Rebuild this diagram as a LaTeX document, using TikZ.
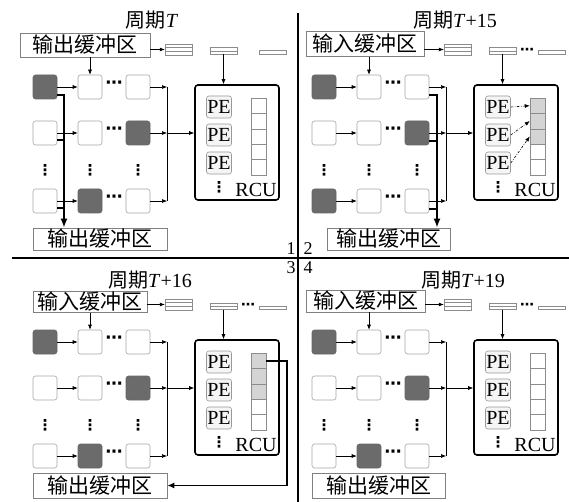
\documentclass[tikz,border=0pt]{standalone}
\usepackage{fontspec}
\setmainfont{Liberation Serif}
\newfontfamily\cjk{Noto Sans CJK SC}
\newfontfamily\dv{DejaVu Sans}
\usetikzlibrary{arrows.meta,calc}
\tikzset{
  cell/.style={draw=black!35, rounded corners=2.5pt, minimum width=24pt, minimum height=24pt, inner sep=0pt, fill=white, line width=0.6pt},
  dcell/.style={cell, fill=black!58, draw=black!60},
  pebox/.style={draw=black!40, rounded corners=2.5pt, minimum width=25pt, minimum height=22pt, inner sep=0pt, fill=black!4, line width=0.6pt, font=\fontsize{20}{20}\selectfont},
  reg/.style={draw=black!45, minimum width=15pt, minimum height=15.4pt, inner sep=0pt, fill=white, line width=0.5pt},
  greg/.style={reg, fill=black!17},
  bufbox/.style={draw=black!50, inner sep=0pt, line width=0.6pt, font=\cjk\fontsize{21}{21}\selectfont},
  rcubox/.style={draw, rounded corners=3pt, line width=1.6pt, minimum width=84pt, minimum height=115pt, inner sep=0pt},
  strip/.style={draw=black!45, fill=white, minimum width=27pt, inner sep=0pt, line width=0.5pt},
  sthree/.style={strip, minimum height=11pt, path picture={
     \draw[black!45, line width=0.5pt]
       ($(path picture bounding box.north west)!1/3!(path picture bounding box.south west)$) -- ($(path picture bounding box.north east)!1/3!(path picture bounding box.south east)$)
       ($(path picture bounding box.north west)!2/3!(path picture bounding box.south west)$) -- ($(path picture bounding box.north east)!2/3!(path picture bounding box.south east)$);}},
  stwo/.style={strip, minimum height=6.5pt, path picture={\draw[black!45, line width=0.5pt] (path picture bounding box.west) -- (path picture bounding box.east);}},
  sone/.style={strip, minimum height=3.5pt},
  arr/.style={-{Latex[length=5pt,width=4pt]}, line width=0.6pt},
  thickline/.style={line width=2pt},
  thickarr/.style={thickline, -{Latex[length=9pt,width=7pt]}},
  fbarr/.style={line width=1.6pt, -{Latex[length=7pt,width=6pt]}},
  ddarr/.style={line width=0.6pt, dash pattern=on 2.5pt off 1.5pt on 0.6pt off 1.5pt, -{Latex[length=5pt,width=4pt]}},
  hd/.style={inner sep=0pt, font=\dv\bfseries\fontsize{17}{17}\selectfont},
  sd/.style={inner sep=0pt, font=\dv\bfseries\fontsize{14}{14}\selectfont},
  vd/.style={inner sep=0pt, font=\dv\bfseries\fontsize{15}{15}\selectfont},
  lbl/.style={inner sep=0pt, font=\fontsize{20}{20}\selectfont},
  ttl/.style={inner sep=0pt, font=\fontsize{20}{20}\selectfont},
  num/.style={inner sep=0pt, font=\fontsize{18}{18}\selectfont},
}
\newcommand\gpanel[6]{%
 \begin{scope}[shift={(#2,#3)}]
  \node[dcell] (#1c11) at (45,87) {};
  \node[cell] (#1c12) at (90,87) {};
  \node[cell] (#1c13) at (138,87) {};
  \node[cell] (#1c21) at (45,133) {};
  \node[cell] (#1c22) at (90,133) {};
  \node[dcell] (#1c23) at (138,133) {};
  \node[#4] (#1c41) at (45,201) {};
  \node[#5] (#1c42) at (90,201) {};
  \node[cell] (#1c43) at (138,201) {};
  \node[hd] (#1h1) at (114,85) {⋯};
  \node[hd] (#1h2) at (114,131) {⋯};
  \node[hd] (#1h4) at (114,199) {⋯};
  \node[vd] (#1v1) at (45,170) {⋮};
  \node[vd] (#1v2) at (90,170) {⋮};
  \node[vd] (#1v3) at (138,170) {⋮};
  \draw[arr] (#1c11) -- (#1c12);
  \draw[arr] (#1c21) -- (#1c22);
  \draw[arr] (#1c41) -- (#1c42);
  \coordinate (#1b1) at (167,87);
  \coordinate (#1b2) at (167,133);
  \coordinate (#1b4) at (167,201);
  \draw[arr] (#1c13) -- (#1b1);
  \draw[arr] (#1c23) -- (#1b2);
  \draw[arr] (#1c43) -- (#1b4);
  \draw[line width=0.6pt] (#1b1) -- (#1b4);
  \node[rcubox] (#1rcu) at (237,142.5) {};
  \draw[arr] (#1b2) -- (#1b2 -| #1rcu.west);
  \node[pebox] (#1pe1) at (219,107) {PE};
  \node[pebox] (#1pe2) at (219,135) {PE};
  \node[pebox] (#1pe3) at (219,163) {PE};
  \node[vd] (#1pv) at (219,187) {⋮};
  \node[lbl] (#1lab) at (256,190) {RCU};
  \node[#6] (#1r1) at (258.5,105.7) {};
  \node[#6] (#1r2) at (258.5,121.1) {};
  \node[#6] (#1r3) at (258.5,136.5) {};
  \node[reg] (#1r4) at (258.5,151.9) {};
  \node[reg] (#1r5) at (258.5,167.3) {};
  \node[sthree] (#1s1) at (178.5,49.5) {};
  \node[stwo] (#1s2) at (223.5,51) {};
  \node[sone] (#1s3) at (272.5,52.5) {};
  \draw[arr] (#1s2) -- (#1s2 |- #1rcu.north);
 \end{scope}}
\begin{document}
\begin{tikzpicture}[x=1pt,y=-1pt]
\useasboundingbox (0,0) rectangle (569,502);
\fill[white] (0,0) rectangle (569,502);
% dividers
\draw[line width=2pt] (12,258) -- (569,258);
\draw[line width=2pt] (298,13) -- (298,502);
\node[num] (n1) at (291,249) {1};
\node[num] (n2) at (308,249) {2};
\node[num] (n3) at (291,268) {3};
\node[num] (n4) at (308,268) {4};
% panel 1
\gpanel{A}{0}{0}{cell}{dcell}{reg}
\node[ttl] (At) at (152,20) {{\cjk 周期}\textit{T}};
\node[bufbox, minimum width=130pt, minimum height=24pt] (Ain) at (85,45) {输出缓冲区};
\draw[arr] (Ain.east |- As1) -- (As1);
\draw[arr] (Ain.south -| Ac12) -- (Ac12);
\node[bufbox, minimum width=134pt, minimum height=22pt] (Aout) at (100,239) {输出缓冲区};
\coordinate (Av) at (64,0);
\draw[thickarr] ($(Ac11.east)+(0,8)$) -| (Av |- Aout.north);
\draw[thickline] ($(Ac21.east)+(0,7)$) -- ++(7,0);
\draw[thickline] ($(Ac41.east)+(0,7)$) -- ++(7,0);
% panel 2
\gpanel{B}{279}{0}{dcell}{cell}{greg}
\node[ttl] (Bt) at (455,20) {{\cjk 周期}\textit{T}+15};
\node[bufbox, minimum width=118pt, minimum height=25pt] (Bin) at (365,44) {输入缓冲区};
\draw[arr] (Bin.east |- Bs1) -- (Bs1);
\draw[arr] (Bin.south -| Bc12) -- (Bc12);
\node[sd] (Bdd) at ($(Bs2.east)!0.5!(Bs3.west)$) {⋯};
\node[bufbox, minimum width=123pt, minimum height=22pt] (Bout) at (388.5,239) {输出缓冲区};
\coordinate (Bv) at (437,0);
\draw[thickarr] ($(Bc13.east)+(0,8)$) -| (Bv |- Bout.north);
\draw[thickline] ($(Bc23.east)+(0,8)$) -- ++(8,0);
\draw[thickline] ($(Bc43.east)+(0,8)$) -- ++(8,0);
\draw[ddarr] (Bpe1.east) -- (Br1.west);
\draw[ddarr] (Bpe2.east) -- (Br2.west);
\draw[ddarr] (Bpe3.east) -- (Br3.west);
% panel 3
\gpanel{C}{0}{255}{cell}{dcell}{greg}
\node[ttl] (Ct) at (150,280) {{\cjk 周期}\textit{T}+16};
\node[bufbox, minimum width=114pt, minimum height=21pt] (Cin) at (90,302) {输入缓冲区};
\draw[arr] (Cin.east |- Cs1) -- (Cs1);
\draw[arr] (Cin.south -| Cc12) -- (Cc12);
\node[sd] (Cdd) at ($(Cs2.east)!0.5!(Cs3.west)$) {⋯};
\node[bufbox, minimum width=134pt, minimum height=25pt] (Cout) at (100,485.5) {输出缓冲区};
\coordinate (Cf) at (287,0);
\draw[fbarr] (Cr1.east) -- (Cr1.east -| Cf) |- (Cout.east);
% panel 4
\gpanel{D}{279}{255}{cell}{dcell}{reg}
\node[ttl] (Dt) at (463,280) {{\cjk 周期}\textit{T}+19};
\node[bufbox, minimum width=119pt, minimum height=22pt] (Din) at (365.5,301) {输入缓冲区};
\draw[arr] (Din.east |- Ds1) -- (Ds1);
\draw[arr] (Din.south -| Dc12) -- (Dc12);
\node[sd] (Ddd) at ($(Ds2.east)!0.5!(Ds3.west)$) {⋯};
\node[bufbox, minimum width=133pt, minimum height=25pt] (Dout) at (378.5,485.5) {输出缓冲区};
\end{tikzpicture}
\end{document}
